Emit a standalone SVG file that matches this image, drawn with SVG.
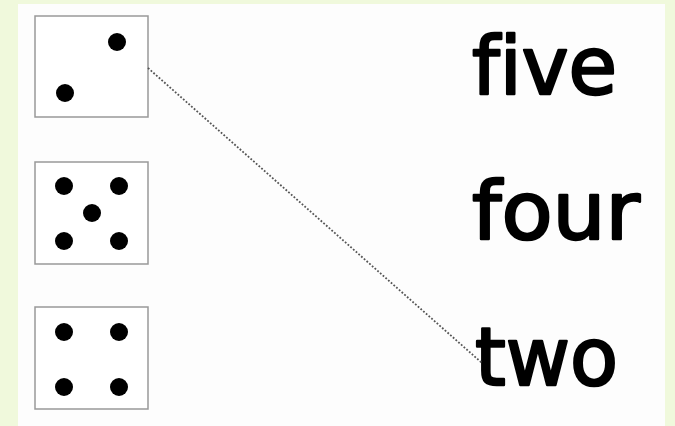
<svg xmlns="http://www.w3.org/2000/svg" width="675" height="426" viewBox="0 0 675 426">
<style>
.die{fill:#fff;stroke:#999;stroke-width:1.5}
.pip{fill:#000}
.word{font-family:"DejaVu Sans","Open Sans",sans-serif;font-size:80px;fill:#000;stroke:#000;stroke-width:2.5;stroke-linejoin:round;font-variant-ligatures:none}
.conn{stroke:#555;stroke-width:1.8;stroke-dasharray:1.8 1.8;fill:none}
</style>
<rect x="0" y="0" width="675" height="426" fill="#f0f9dc"/>
<rect x="18" y="4" width="647" height="422" fill="#fdfdfd"/>
<g id="die2">
<rect class="die" x="35" y="16" width="113" height="101"/>
<circle class="pip" cx="117" cy="42" r="9"/>
<circle class="pip" cx="65" cy="93" r="9"/>
</g>
<g id="die5">
<rect class="die" x="35" y="162" width="113" height="102"/>
<circle class="pip" cx="64" cy="186" r="9"/>
<circle class="pip" cx="119" cy="186" r="9"/>
<circle class="pip" cx="92" cy="213" r="9"/>
<circle class="pip" cx="64" cy="241" r="9"/>
<circle class="pip" cx="119" cy="241" r="9"/>
</g>
<g id="die4">
<rect class="die" x="35" y="307" width="113" height="102"/>
<circle class="pip" cx="64" cy="332" r="9"/>
<circle class="pip" cx="119" cy="332" r="9"/>
<circle class="pip" cx="64" cy="387" r="9"/>
<circle class="pip" cx="119" cy="387" r="9"/>
</g>
<g id="label-five"><text class="word" x="472" y="94" textLength="145" lengthAdjust="spacingAndGlyphs">five</text></g>
<g id="label-four"><text class="word" x="472" y="239" textLength="168" lengthAdjust="spacingAndGlyphs">four</text></g>
<g id="label-two"><text class="word" x="475" y="385" textLength="143" lengthAdjust="spacingAndGlyphs">two</text></g>
<g id="connectors">
<line class="conn" x1="148" y1="68" x2="482" y2="363"/>
</g>
</svg>
